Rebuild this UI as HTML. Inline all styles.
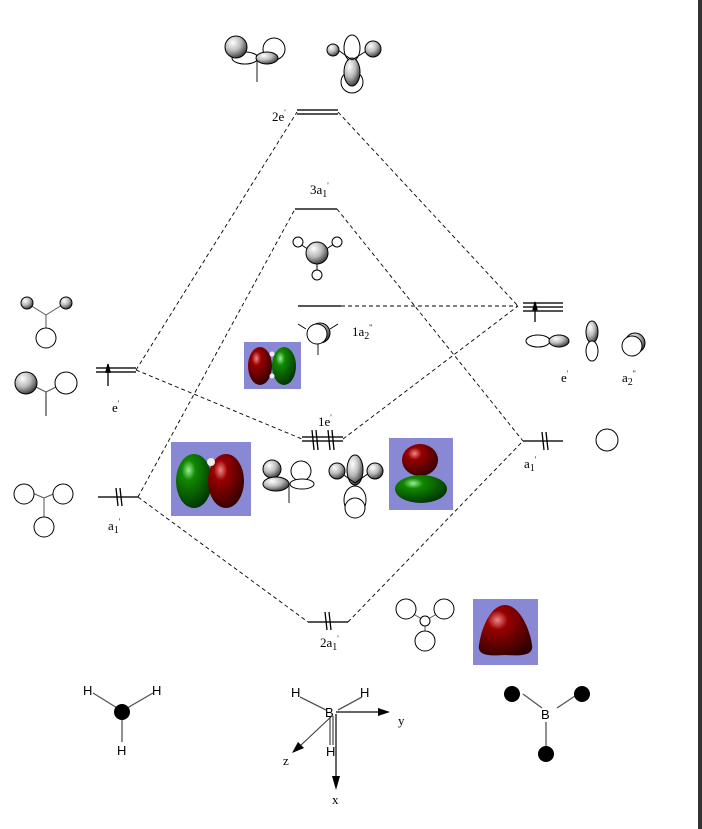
<!DOCTYPE html>
<html><head><meta charset="utf-8"><style>
html,body{margin:0;padding:0;background:#fff;}
svg{display:block;}
text{font-family:"Liberation Serif",serif;font-size:13px;fill:#000;}
.sans{font-family:"Liberation Sans",sans-serif;}
</style></head><body>
<svg width="702" height="829" viewBox="0 0 702 829" xmlns="http://www.w3.org/2000/svg">
<defs>
<radialGradient id="g" cx="35%" cy="30%" r="75%"><stop offset="0" stop-color="#fff"/><stop offset="0.5" stop-color="#bbb"/><stop offset="1" stop-color="#333"/></radialGradient>
<radialGradient id="red" cx="35%" cy="30%" r="75%"><stop offset="0" stop-color="#e88"/><stop offset="0.25" stop-color="#900"/><stop offset="1" stop-color="#300"/></radialGradient>
<radialGradient id="grn" cx="35%" cy="30%" r="75%"><stop offset="0" stop-color="#9e9"/><stop offset="0.25" stop-color="#180"/><stop offset="1" stop-color="#030"/></radialGradient>
</defs>
<rect x="698" y="0" width="4" height="829" fill="#333"/>

<!-- dashed connectors -->
<g stroke="#000" stroke-width="0.9" stroke-dasharray="4,3" fill="none">
<line x1="136" y1="370" x2="297" y2="112"/>
<line x1="136" y1="370" x2="302" y2="439"/>
<line x1="138" y1="497" x2="295" y2="209"/>
<line x1="138" y1="497" x2="308" y2="622"/>
<line x1="338" y1="112" x2="518" y2="306"/>
<line x1="337" y1="209" x2="523" y2="441"/>
<line x1="341" y1="306" x2="518" y2="306"/>
<line x1="343" y1="439" x2="518" y2="306"/>
<line x1="348" y1="622" x2="523" y2="441"/>
</g>

<!-- levels -->
<g stroke="#555" stroke-width="2">
<line x1="297" y1="110" x2="338" y2="110"/><line x1="297" y1="114" x2="338" y2="114"/>
<line x1="295" y1="209" x2="337" y2="209"/>
<line x1="298" y1="306" x2="341" y2="306"/>
<line x1="302" y1="437" x2="343" y2="437"/><line x1="302" y1="441" x2="343" y2="441"/>
<line x1="308" y1="622" x2="348" y2="622"/>
<line x1="96" y1="368" x2="136" y2="368"/><line x1="96" y1="372" x2="136" y2="372"/>
<line x1="98" y1="497" x2="138" y2="497"/>
<line x1="523" y1="303" x2="563" y2="303"/><line x1="523" y1="307" x2="563" y2="307"/><line x1="523" y1="311" x2="563" y2="311"/>
<line x1="523" y1="441" x2="563" y2="441"/>
</g>

<!-- electrons -->
<g stroke="#000" stroke-width="1.3" fill="#000">
<line x1="108" y1="366" x2="108" y2="386"/><polygon points="106,372 110,372 108,364"/>
<line x1="116" y1="488" x2="118" y2="506"/><line x1="120" y1="488" x2="122" y2="506"/>
<line x1="312" y1="430" x2="314" y2="450"/><line x1="316" y1="430" x2="318" y2="450"/>
<line x1="328" y1="430" x2="330" y2="450"/><line x1="332" y1="430" x2="334" y2="450"/>
<line x1="325" y1="612" x2="327" y2="630"/><line x1="329" y1="612" x2="331" y2="630"/>
<line x1="535" y1="303" x2="535" y2="322"/><polygon points="533,310 537,310 535,302"/>
<line x1="542" y1="432" x2="544" y2="450"/><line x1="546" y1="432" x2="548" y2="450"/>
</g>

<!-- labels -->
<text x="272" y="121">2e<tspan dy="-6" font-size="8">'</tspan></text>
<text x="310" y="194">3a<tspan dy="3" font-size="10">1</tspan><tspan dy="-9" font-size="8">'</tspan></text>
<text x="352" y="336">1a<tspan dy="3" font-size="10">2</tspan><tspan dy="-9" font-size="8">''</tspan></text>
<text x="318" y="426">1e<tspan dy="-6" font-size="8">'</tspan></text>
<text x="320" y="647">2a<tspan dy="3" font-size="10">1</tspan><tspan dy="-9" font-size="8">'</tspan></text>
<text x="112" y="412">e<tspan dy="-6" font-size="8">'</tspan></text>
<text x="108" y="530">a<tspan dy="3" font-size="10">1</tspan><tspan dy="-9" font-size="8">'</tspan></text>
<text x="561" y="382">e<tspan dy="-6" font-size="8">'</tspan></text>
<text x="622" y="382">a<tspan dy="3" font-size="10">2</tspan><tspan dy="-9" font-size="8">''</tspan></text>
<text x="524" y="468">a<tspan dy="3" font-size="10">1</tspan><tspan dy="-9" font-size="8">'</tspan></text>

<g stroke="#000" stroke-width="1" fill="none">
<!-- top orbitals -->
<line x1="257" y1="55" x2="257" y2="82" stroke="#666" stroke-width="1.5"/>
<circle cx="274" cy="49" r="11" fill="#fff"/>
<ellipse cx="245" cy="58" rx="13" ry="6" fill="#fff"/>
<ellipse cx="267" cy="58" rx="11" ry="6" fill="url(#g)"/>
<circle cx="236" cy="47" r="11" fill="url(#g)"/>
<ellipse cx="352" cy="48" rx="8" ry="13" fill="#fff"/>
<circle cx="352" cy="82" r="11" fill="#fff"/>
<ellipse cx="352" cy="72" rx="8" ry="14" fill="url(#g)"/>
<line x1="352" y1="60" x2="338" y2="50"/><line x1="352" y1="60" x2="368" y2="50"/>
<circle cx="333" cy="50" r="6" fill="url(#g)"/><circle cx="373" cy="49" r="8" fill="url(#g)"/>
<!-- 3a1' -->
<line x1="317" y1="255" x2="300" y2="244"/><line x1="317" y1="255" x2="334" y2="244"/><line x1="317" y1="255" x2="317" y2="272"/>
<circle cx="298" cy="242" r="5" fill="#fff"/><circle cx="337" cy="242" r="5" fill="#fff"/><circle cx="317" cy="275" r="5" fill="#fff"/>
<circle cx="317" cy="253" r="11" fill="url(#g)"/>
<!-- 1a2'' -->
<line x1="318" y1="335" x2="318" y2="355" stroke="#666" stroke-width="1.5"/>
<line x1="306" y1="329" x2="298" y2="324"/><line x1="330" y1="329" x2="338" y2="324"/>
<circle cx="320" cy="333" r="10" fill="url(#g)"/>
<circle cx="317" cy="334" r="10" fill="#fff"/>
<!-- left side -->
<line x1="46" y1="315" x2="46" y2="328" stroke="#555"/><line x1="46" y1="315" x2="30" y2="305" stroke="#555"/><line x1="46" y1="315" x2="62" y2="305" stroke="#555"/>
<circle cx="27" cy="303" r="6" fill="url(#g)"/><circle cx="66" cy="303" r="6" fill="url(#g)"/><circle cx="46" cy="338" r="10" fill="#fff"/>
<line x1="46" y1="392" x2="46" y2="416" stroke="#666" stroke-width="1.5"/><line x1="46" y1="392" x2="36" y2="387" stroke="#555"/><line x1="46" y1="392" x2="56" y2="387" stroke="#555"/>
<circle cx="26" cy="383" r="11" fill="url(#g)"/><circle cx="66" cy="383" r="11" fill="#fff"/>
<line x1="44" y1="498" x2="44" y2="517" stroke="#555"/><line x1="44" y1="498" x2="30" y2="492" stroke="#555"/><line x1="44" y1="498" x2="58" y2="492" stroke="#555"/>
<circle cx="24" cy="494" r="10" fill="#fff"/><circle cx="63" cy="494" r="10" fill="#fff"/><circle cx="44" cy="527" r="10" fill="#fff"/>
<!-- middle 1e' sketches -->
<line x1="289" y1="485" x2="289" y2="503" stroke="#666" stroke-width="1.5"/>
<circle cx="301" cy="471" r="10" fill="#fff"/>
<ellipse cx="302" cy="484" rx="12" ry="5" fill="#fff"/>
<circle cx="272" cy="469" r="9" fill="url(#g)"/>
<ellipse cx="276" cy="484" rx="13" ry="7" fill="url(#g)"/>
<ellipse cx="355" cy="500" rx="11" ry="14" fill="#fff"/>
<circle cx="355" cy="508" r="10" fill="#fff"/>
<ellipse cx="355" cy="470" rx="8" ry="15" fill="url(#g)"/>
<line x1="355" y1="483" x2="341" y2="473"/><line x1="355" y1="483" x2="369" y2="473"/>
<circle cx="337" cy="471" r="8" fill="url(#g)"/><circle cx="375" cy="471" r="8" fill="url(#g)"/>
<!-- right -->
<ellipse cx="538" cy="341" rx="12" ry="6" fill="#fff"/><ellipse cx="559" cy="341" rx="10" ry="6" fill="url(#g)"/>
<ellipse cx="592" cy="332" rx="6" ry="11" fill="url(#g)"/><ellipse cx="592" cy="351" rx="6" ry="10" fill="#fff"/>
<circle cx="635" cy="343" r="10" fill="url(#g)"/><circle cx="632" cy="346" r="10" fill="#fff"/>
<circle cx="607" cy="440" r="11" fill="#fff"/>
<!-- 2a1' sketch -->
<line x1="425" y1="621" x2="410" y2="612" stroke="#555"/><line x1="425" y1="621" x2="440" y2="612" stroke="#555"/><line x1="425" y1="621" x2="425" y2="633" stroke="#555"/>
<circle cx="406" cy="609" r="10" fill="#fff"/><circle cx="444" cy="609" r="10" fill="#fff"/><circle cx="425" cy="641" r="10" fill="#fff"/><circle cx="425" cy="621" r="5" fill="#fff"/>
</g>

<!-- blue boxes -->
<rect x="244" y="342" width="57" height="47" fill="#8888d4"/>
<ellipse cx="260" cy="366" rx="12" ry="19" fill="url(#red)"/><ellipse cx="284" cy="366" rx="12" ry="19" fill="url(#grn)"/>
<circle cx="272" cy="354" r="2.5" fill="#eee"/><circle cx="272" cy="376" r="2.5" fill="#eee"/>
<rect x="171" y="442" width="80" height="74" fill="#8888d4"/>
<ellipse cx="194" cy="481" rx="18" ry="27" fill="url(#grn)"/><ellipse cx="226" cy="481" rx="18" ry="27" fill="url(#red)"/>
<circle cx="211" cy="462" r="4" fill="#eee"/>
<rect x="389" y="438" width="64" height="72" fill="#8888d4"/>
<ellipse cx="420" cy="460" rx="18" ry="16" fill="url(#red)"/><ellipse cx="421" cy="489" rx="26" ry="14" fill="url(#grn)"/>
<rect x="473" y="599" width="65" height="66" fill="#8888d4"/>
<path d="M505 605 C520 605 530 630 532 645 C534 656 520 656 505 655 C490 656 477 656 479 645 C481 630 490 605 505 605 Z" fill="url(#red)"/>

<!-- bottom molecules -->
<g stroke="#555" stroke-width="1.3">
<line x1="93" y1="693" x2="122" y2="711"/><line x1="153" y1="693" x2="122" y2="711"/><line x1="122" y1="711" x2="122" y2="742"/>
<line x1="300" y1="697" x2="326" y2="710"/><line x1="362" y1="697" x2="338" y2="710"/>
<line x1="330" y1="716" x2="330" y2="745"/><line x1="333" y1="716" x2="333" y2="745"/>
<line x1="523" y1="694" x2="542" y2="708"/><line x1="578" y1="694" x2="557" y2="708"/><line x1="546" y1="722" x2="546" y2="752"/>
</g>
<circle cx="122" cy="712" r="8" fill="#000"/>
<circle cx="512" cy="694" r="8" fill="#000"/><circle cx="582" cy="694" r="8" fill="#000"/><circle cx="546" cy="754" r="8" fill="#000"/>
<text class="sans" x="83" y="695">H</text><text class="sans" x="152" y="695">H</text><text class="sans" x="117" y="755">H</text>
<text class="sans" x="291" y="697">H</text><text class="sans" x="360" y="697">H</text><text class="sans" x="325" y="717">B</text><text class="sans" x="326" y="756">H</text>
<text class="sans" x="541" y="719">B</text>
<g stroke="#333" stroke-width="1.5" fill="#000">
<line x1="336" y1="712" x2="378" y2="712"/><polygon points="378,708 390,712 378,716" stroke="none"/>
<line x1="336" y1="714" x2="336" y2="778"/><polygon points="332,776 336,790 340,776" stroke="none"/>
<line x1="333" y1="715" x2="300" y2="746" stroke-width="1"/><polygon points="298,742 292,753 304,748" stroke="none"/>
</g>
<text x="398" y="725">y</text><text x="283" y="765">z</text><text x="332" y="804">x</text>
</svg>
</body></html>
